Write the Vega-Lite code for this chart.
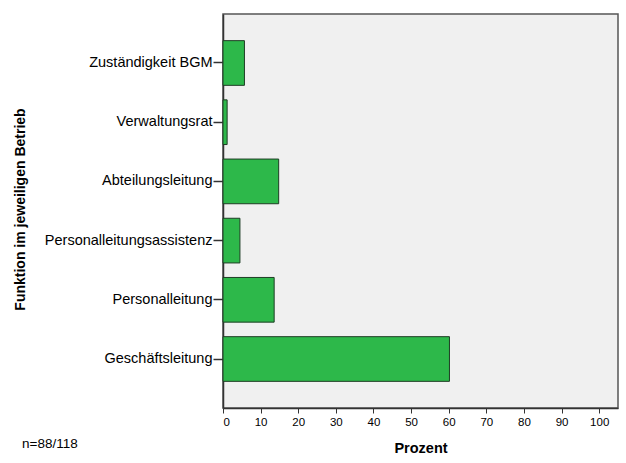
{
  "$schema": "https://vega.github.io/schema/vega-lite/v6.json",
  "autosize": {"type": "none"},
  "padding": {"left": 223, "top": 14, "right": 8, "bottom": 55},
  "width": 395,
  "height": 394,
  "background": "white",
  "config": {
    "font": "Liberation Sans",
    "view": {"fill": "#f0f0f0", "stroke": "#555555", "strokeWidth": 1.5}
  },
  "title": {
    "text": "n=88/118",
    "orient": "bottom",
    "anchor": "start",
    "frame": "group",
    "dx": -201,
    "offset": -18,
    "fontSize": 13.5,
    "fontWeight": "normal",
    "font": "Liberation Sans",
    "color": "#000000"
  },
  "data": {
    "values": [
      {"Funktion": "Zuständigkeit BGM", "Prozent": 5.7},
      {"Funktion": "Verwaltungsrat", "Prozent": 1.1},
      {"Funktion": "Abteilungsleitung", "Prozent": 14.8},
      {"Funktion": "Personalleitungsassistenz", "Prozent": 4.5},
      {"Funktion": "Personalleitung", "Prozent": 13.6},
      {"Funktion": "Geschäftsleitung", "Prozent": 60.2}
    ]
  },
  "mark": {"type": "bar", "fill": "#2db84a", "stroke": "#1e3d24", "strokeWidth": 1},
  "encoding": {
    "y": {
      "field": "Funktion",
      "type": "nominal",
      "sort": null,
      "scale": {"paddingInner": 0.245, "paddingOuter": 0.45},
      "axis": {
        "title": "Funktion im jeweiligen Betrieb",
        "titleFontSize": 14,
        "titleFontWeight": "bold",
        "titleColor": "#000000",
        "titleX": -203,
        "titleY": 195,
        "titleBaseline": "middle",
        "labelFontSize": 14.5,
        "labelColor": "#000000",
        "labelPadding": 1,
        "tickSize": 10,
        "tickColor": "#333333",
        "tickWidth": 1.5,
        "domainColor": "#333333",
        "domainWidth": 1.5
      }
    },
    "x": {
      "field": "Prozent",
      "type": "quantitative",
      "scale": {"domain": [0, 105], "nice": false},
      "axis": {
        "title": "Prozent",
        "titleFontSize": 14.5,
        "titleFontWeight": "bold",
        "titleColor": "#000000",
        "titlePadding": 14,
        "values": [0, 10, 20, 30, 40, 50, 60, 70, 80, 90, 100],
        "labelFontSize": 11.5,
        "labelColor": "#000000",
        "labelPadding": 3,
        "tickSize": 5,
        "tickColor": "#333333",
        "domainColor": "#333333",
        "domainWidth": 1.5,
        "grid": false
      }
    }
  }
}
